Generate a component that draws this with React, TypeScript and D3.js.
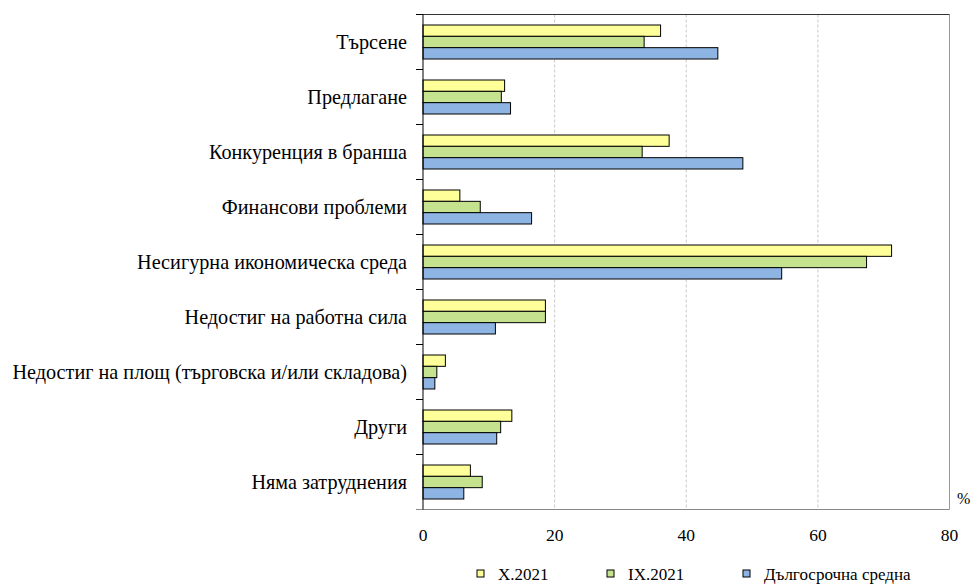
import React from "react";
import * as d3 from "d3";

const categories = [
  "Търсене",
  "Предлагане",
  "Конкуренция в бранша",
  "Финансови проблеми",
  "Несигурна икономическа среда",
  "Недостиг на работна сила",
  "Недостиг на площ (търговска и/или складова)",
  "Други",
  "Няма затруднения",
];
const seriesNames = ["X.2021", "IX.2021", "Дългосрочна средна"];
const x2021 = [36.1, 12.4, 37.4, 5.6, 71.2, 18.6, 3.4, 13.5, 7.2];
const ix2021 = [33.6, 11.9, 33.3, 8.7, 67.4, 18.6, 2.1, 11.8, 9.0];
const longTerm = [44.8, 13.3, 48.6, 16.5, 54.5, 11.0, 1.8, 11.2, 6.2];
const xTicks = [0, 20, 40, 60, 80];
const colors = ["#FFFF99", "#C5E38E", "#8DB4E2"];

const W = 972, H = 584;
const L = 423, R = 949.5, T = 14.5, B = 509.5;
const FONT = "Tinos, Liberation Serif, Times New Roman";

export default function App() {
  const series = [x2021, ix2021, longTerm];
  const x = d3.scaleLinear().domain([0, 80]).range([L, R]);
  const y0 = d3.scaleBand<string>().domain(categories).range([T, B]).padding(0);
  const bw = y0.bandwidth();
  const groupH = 34;
  const y1 = d3.scaleBand<number>().domain([0, 1, 2]).range([0, groupH]).padding(0);
  const off = (bw - groupH) / 2;
  const legendX = [477, 607, 743];

  return (
    <svg width={W} height={H} style={{ position: "absolute", left: 0, top: 0 }} fontFamily={FONT}>
      <rect x={0} y={0} width={W} height={H} fill="#fff" />
      {xTicks.slice(1, -1).map((t) => (
        <line key={t} x1={x(t)} x2={x(t)} y1={T} y2={B} stroke="#c8c8c8" strokeDasharray="3,2" />
      ))}
      <line x1={R} x2={R} y1={T} y2={B} stroke="#999" strokeWidth={1} />
      <line x1={L} x2={R} y1={T} y2={T} stroke="#333" strokeWidth={1} />
      {categories.map((c, i) => (
        <g key={c} transform={`translate(0,${y0(c)! + off})`}>
          {series.map((s, j) => (
            <rect key={j} x={x(0)} y={y1(j)!} width={x(s[i]) - x(0)} height={y1.bandwidth()}
              fill={colors[j]} stroke="#000" strokeWidth={1} />
          ))}
        </g>
      ))}
      <line x1={416} x2={R} y1={B} y2={B} stroke="#888" strokeWidth={1} />
      <line x1={L} x2={L} y1={T} y2={B} stroke="#000" strokeWidth={1} />
      {categories.map((c) => (
        <line key={"t" + c} x1={416} x2={L} y1={y0(c)!} y2={y0(c)!} stroke="#000" strokeWidth={1} />
      ))}
      {categories.map((c) => (
        <text key={"l" + c} x={407} y={y0(c)! + bw / 2 + 6.5} textAnchor="end" fontSize={20.2} fill="#000"
          fontFamily={FONT}>
          {c}
        </text>
      ))}
      {xTicks.map((t) => (
        <text key={"x" + t} x={x(t)} y={541} textAnchor="middle" fontSize={17.5} fill="#000" fontFamily={FONT}>
          {t}
        </text>
      ))}
      <text x={957} y={504} fontSize={16} fill="#000" fontFamily={FONT}>%</text>
      {seriesNames.map((n, j) => (
        <g key={n}>
          <rect x={legendX[j]} y={570} width={7} height={7} fill={colors[j]} stroke="#000" strokeWidth={1} />
          <text x={legendX[j] + 21} y={580} fontSize={17} fill="#000" fontFamily={FONT}>{n}</text>
        </g>
      ))}
    </svg>
  );
}
